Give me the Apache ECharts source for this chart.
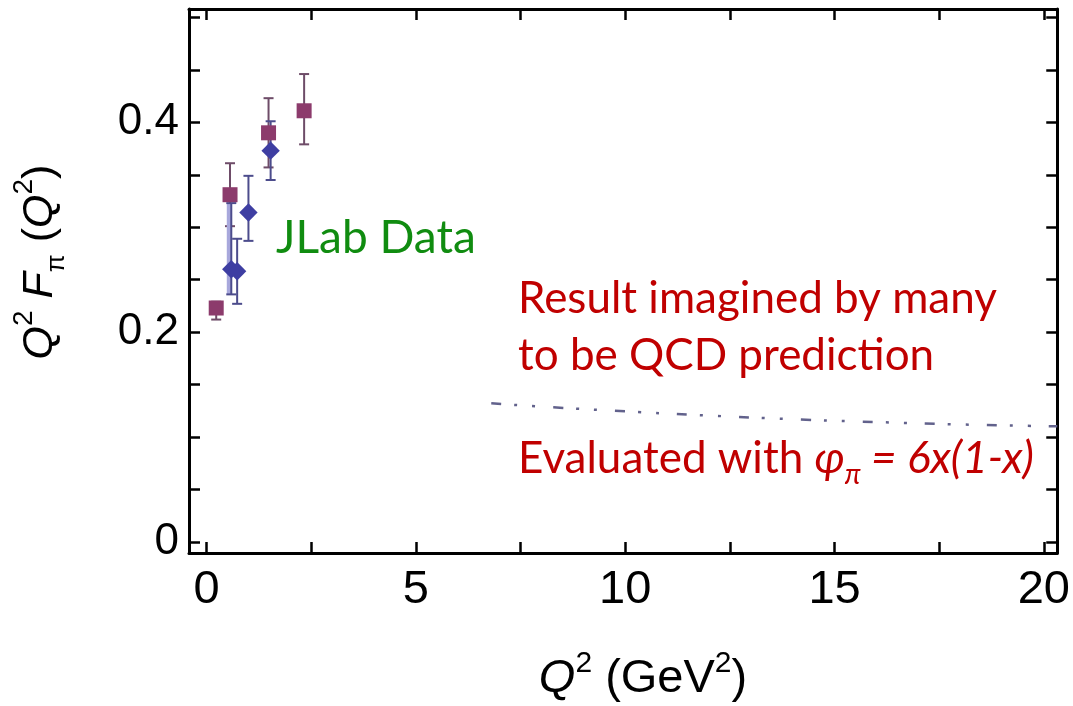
<!DOCTYPE html>
<html><head><meta charset="utf-8">
<script src="https://cdn.jsdelivr.net/npm/echarts@6/dist/echarts.min.js"></script>
<style>html,body{margin:0;padding:0;background:#fff}#c{width:1073px;height:706px}</style>
</head><body><div id="c"></div>
<script>
// ---- data ----
const squareX    = [0.23, 0.56, 1.48, 2.33];
const squareY    = [0.223, 0.331, 0.390, 0.411];
const squareLow  = [0.212, 0.301, 0.357, 0.379];
const squareHigh = [0.229, 0.361, 0.423, 0.446];

const diamondX    = [0.59, 0.73, 1.00, 1.53];
const diamondY    = [0.260, 0.258, 0.314, 0.373];
const diamondLow  = [0.236, 0.227, 0.287, 0.345];
const diamondHigh = [0.323, 0.289, 0.349, 0.401];

const predX = [6.8, 8, 10, 12, 14, 16, 18, 20.32];
const predY = [0.1322, 0.1290, 0.1245, 0.1205, 0.1170, 0.1143, 0.1120, 0.1102];

const xTicks  = [0, 2.5, 5, 7.5, 10, 12.5, 15, 17.5, 20];
const xLabels = [0, 5, 10, 15, 20];
const yTicks  = [0, 0.05, 0.1, 0.15, 0.2, 0.25, 0.3, 0.35, 0.4, 0.45, 0.5];
const yLabels = [0, 0.2, 0.4];

// ---- chart ----
const AX = 'Liberation Sans';
const ANN = 'Lato, "Noto Sans", sans-serif';

function errRender(color, capW, lw, wideFirst) {
  return function (params, api) {
    const x = api.value(0), lo = api.value(1), hi = api.value(2);
    const a = api.coord([x, lo]), b = api.coord([x, hi]);
    const wide = wideFirst && params.dataIndex === 0;
    const st = {stroke: color, lineWidth: lw};
    const children = [];
    if (wide) {
      children.push({type: 'line', shape: {x1: a[0] - 2, y1: a[1], x2: b[0] - 2, y2: b[1]},
        style: {stroke: '#a8a8dc', lineWidth: 5}});
    }
    children.push({type: 'line', shape: {x1: a[0], y1: a[1], x2: b[0], y2: b[1]}, style: st});
    children.push({type: 'line', shape: {x1: a[0] - capW / 2, y1: a[1], x2: a[0] + capW / 2, y2: a[1]}, style: st});
    children.push({type: 'line', shape: {x1: b[0] - capW / 2, y1: b[1], x2: b[0] + capW / 2, y2: b[1]}, style: st});
    return {type: 'group', children};
  };
}

const xMin = -0.42, xMax = 20.32, yMin = -0.0105, yMax = 0.508;

function xAx(pos, labels) {
  return {
    type: 'value', min: xMin, max: xMax, position: pos,
    axisLine: {show: true, onZero: false, lineStyle: {color: '#000', width: 3}},
    axisTick: {show: true, inside: true, length: 11, customValues: xTicks, lineStyle: {color: '#000', width: 2.5}},
    axisLabel: labels ? {show: true, customValues: xLabels, fontSize: 47, fontFamily: AX, color: '#000', margin: 14,
      formatter: v => String(v)} : {show: false},
    splitLine: {show: false}
  };
}
function yAx(pos, labels) {
  return {
    type: 'value', min: yMin, max: yMax, position: pos,
    axisLine: {show: true, onZero: false, lineStyle: {color: '#000', width: 3}},
    axisTick: {show: true, inside: true, length: 11, customValues: yTicks, lineStyle: {color: '#000', width: 2.5}},
    axisLabel: labels ? {show: true, customValues: yLabels, fontSize: 44, fontFamily: AX, color: '#000', margin: 10,
      formatter: v => (v === 0 ? '0' : v.toFixed(1))} : {show: false},
    splitLine: {show: false}
  };
}

const chart = echarts.init(document.getElementById('c'), null, {renderer: 'canvas'});
chart.setOption({
  animation: false,
  backgroundColor: '#fff',
  grid: {left: 189, right: 10, top: 9, bottom: 153, containLabel: false},
  xAxis: [xAx('bottom', true), xAx('top', false)],
  yAxis: [yAx('left', true), yAx('right', false)],
  series: [
    {type: 'line', xAxisIndex: 0, yAxisIndex: 0, data: predX.map((x, i) => [x, predY[i]]),
      showSymbol: false, smooth: true, clip: true,
      lineStyle: {color: '#62628c', width: 2.5, type: [10, 13, 3, 15, 3, 18]}},
    {type: 'custom', renderItem: errRender('#6e4c68', 10, 2, false),
      data: squareX.map((x, i) => [x, squareLow[i], squareHigh[i]]), encode: {x: 0, y: [1, 2]}, z: 2},
    {type: 'custom', renderItem: errRender('#4c4c8c', 10, 2, true),
      data: diamondX.map((x, i) => [x, diamondLow[i], diamondHigh[i]]), encode: {x: 0, y: [1, 2]}, z: 2},
    {type: 'scatter', data: squareX.map((x, i) => [x, squareY[i]]), symbol: 'rect', symbolSize: 15,
      itemStyle: {color: '#8c3b6c', opacity: 1}, z: 3},
    {type: 'scatter', data: diamondX.map((x, i) => [x, diamondY[i]]), symbol: 'rect', symbolSize: 13, symbolRotate: 45,
      itemStyle: {color: '#3e3ea2', opacity: 1}, z: 4}
  ],
  graphic: [
    {type: 'text', x: 276, y: 238, style: {text: 'JLab Data', fontFamily: ANN, fontSize: 46, fill: '#108c10',
      align: 'left', verticalAlign: 'middle'}},
    {type: 'text', x: 518, y: 299, style: {text: 'Result imagined by many', fontFamily: ANN, fontSize: 44, fill: '#c00000',
      align: 'left', verticalAlign: 'middle'}},
    {type: 'text', x: 518, y: 356, style: {text: 'to be QCD prediction', fontFamily: ANN, fontSize: 44, fill: '#c00000',
      align: 'left', verticalAlign: 'middle'}},
    {type: 'text', x: 518, y: 459, style: {
      text: '{n|Evaluated with }{i|φ}{s|π}{i| = 6x(1-x)}',
      align: 'left', verticalAlign: 'middle',
      rich: {
        n: {fontFamily: ANN, fontSize: 44, fill: '#c00000', lineHeight: 60},
        i: {fontFamily: ANN, fontSize: 44, fontStyle: 'italic', fill: '#c00000', lineHeight: 60},
        s: {fontFamily: ANN, fontSize: 28, fontStyle: 'italic', fill: '#c00000', lineHeight: 22, verticalAlign: 'bottom'}
      }}},
    {type: 'text', x: 40, y: 262, rotation: Math.PI / 2, style: {
      text: '{q|Q}{p|2}{n| }{q|F}{s|π}{n| (}{q|Q}{p|2}{n|)}',
      align: 'center', verticalAlign: 'middle',
      rich: {
        q: {fontFamily: AX, fontSize: 43, fontStyle: 'italic', fill: '#000', lineHeight: 60},
        n: {fontFamily: AX, fontSize: 43, fill: '#000', lineHeight: 60},
        p: {fontFamily: AX, fontSize: 28, fill: '#000', lineHeight: 28, verticalAlign: 'top'},
        s: {fontFamily: AX, fontSize: 26, fill: '#000', lineHeight: 22, verticalAlign: 'bottom'}
      }}},
    {type: 'text', x: 643, y: 679, style: {
      text: '{q|Q}{p|2}{n| (GeV}{p|2}{n|)}',
      align: 'center', verticalAlign: 'middle',
      rich: {
        q: {fontFamily: AX, fontSize: 47, fontStyle: 'italic', fill: '#000', lineHeight: 60},
        n: {fontFamily: AX, fontSize: 47, fill: '#000', lineHeight: 60},
        p: {fontFamily: AX, fontSize: 30, fill: '#000', lineHeight: 28, verticalAlign: 'top'}
      }}}
  ]
});
</script>
</body></html>
